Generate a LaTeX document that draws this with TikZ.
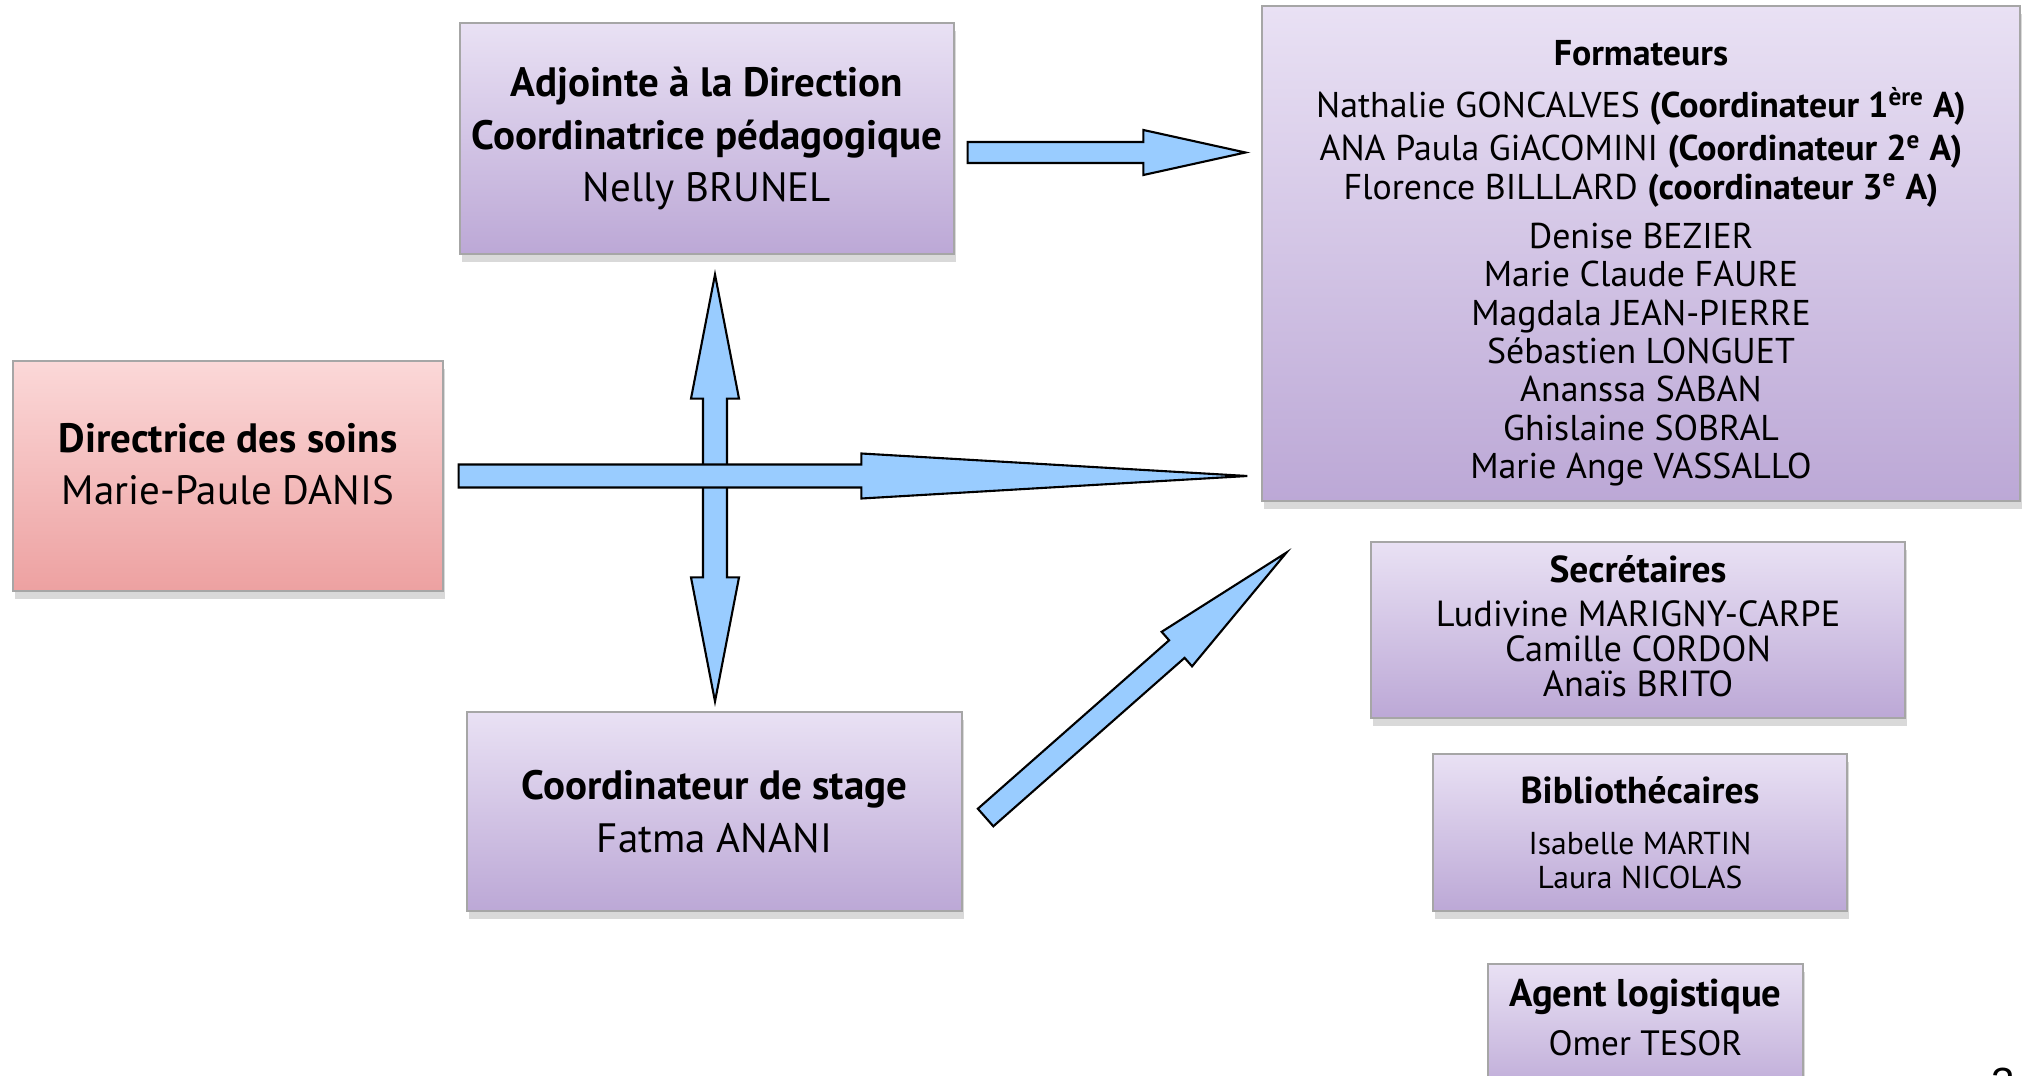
\documentclass[tikz,border=0pt]{standalone}
\usepackage{fontspec}
\setmainfont{PT Sans}
\newfontfamily\chiffre{Liberation Sans}
\usetikzlibrary{calc,shadows}

\definecolor{lavhaut}{HTML}{E9E1F4}
\definecolor{lavbas}{HTML}{BCA8D6}
\definecolor{rosehaut}{HTML}{FBD8D8}
\definecolor{rosebas}{HTML}{EDA1A1}
\definecolor{bleufl}{HTML}{99CCFF}

\newcommand{\upx}{0.15mm}
\newcommand{\grand}{\fontsize{17.5}{22.3}\selectfont}
\newcommand{\moyen}{\fontsize{16}{19}\selectfont}
\newcommand{\petit}{\fontsize{13.5}{14.5}\selectfont}
\newcommand{\calehaut}[1]{\rule{0pt}{#1}}
\newcommand{\calebas}[1]{\rule[-#1]{0pt}{#1}}

\tikzset{
  boite/.style={draw=gray!70, line width=0.5pt, top color=lavhaut, bottom color=lavbas,
    align=center, inner sep=0pt,
    drop shadow={shadow xshift=0.3mm, shadow yshift=-1.2mm, opacity=0.3}},
  rose/.style={top color=rosehaut, bottom color=rosebas},
  fleche/.style={draw=black, line width=0.9pt, fill=bleufl, line join=miter},
}

% fleche pleine : depart, pointe, demi-largeur tige, demi-largeur tete, longueur tete
\newcommand{\flechebloc}[5]{%
  \coordinate (fb-t) at ($(#2)!#5*\upx!(#1)$);
  \draw[fleche] ($(#1)!#3*\upx!90:(#2)$) -- ($(fb-t)!#3*\upx!90:(#2)$)
    -- ($(fb-t)!#4*\upx!90:(#2)$) -- (#2) -- ($(fb-t)!#4*\upx!-90:(#2)$)
    -- ($(fb-t)!#3*\upx!-90:(#2)$) -- ($(#1)!#3*\upx!-90:(#2)$) -- cycle;
}
% fleche a deux pointes
\newcommand{\flechedouble}[5]{%
  \coordinate (fd-a) at ($(#1)!#5*\upx!(#2)$);
  \coordinate (fd-b) at ($(#2)!#5*\upx!(#1)$);
  \draw[fleche] (#1) -- ($(fd-a)!#4*\upx!90:(#2)$) -- ($(fd-a)!#3*\upx!90:(#2)$)
    -- ($(fd-b)!#3*\upx!90:(#2)$) -- ($(fd-b)!#4*\upx!90:(#2)$) -- (#2)
    -- ($(fd-b)!#4*\upx!-90:(#2)$) -- ($(fd-b)!#3*\upx!-90:(#2)$)
    -- ($(fd-a)!#3*\upx!-90:(#2)$) -- ($(fd-a)!#4*\upx!-90:(#2)$) -- cycle;
}

\begin{document}
\begin{tikzpicture}[x=\upx, y=-\upx]
  \useasboundingbox (0,0) rectangle (2024,1076);

  \node[boite, rose, minimum width=430*\upx, minimum height=230*\upx, font=\grand] (dir) at (228,476)
    {\textbf{Directrice des soins}\\ Marie-Paule DANIS\calebas{10pt}};
  \node[boite, minimum width=494*\upx, minimum height=231*\upx, font=\grand] (adj) at (707,138.5)
    {\textbf{Adjointe à la Direction}\\ \textbf{Coordinatrice pédagogique}\\ Nelly BRUNEL};
  \node[boite, minimum width=495*\upx, minimum height=199*\upx, font=\grand] (stage) at (714.5,811.5)
    {\textbf{Coordinateur de stage}\\ Fatma ANANI};

  \node[boite, minimum width=758*\upx, minimum height=495*\upx, font=\fontsize{15.3}{16.4}\selectfont] (form) at (1641,253.5)
    {\calehaut{19pt}\textbf{Formateurs}\\[6pt]
     Nathalie GONCALVES \textbf{(Coordinateur 1\textsuperscript{ère} A)}\\[2pt]
     ANA Paula GiACOMINI \textbf{(Coordinateur 2\textsuperscript{e} A)}\\
     Florence BILLLARD \textbf{(coordinateur 3\textsuperscript{e} A)}\\[4.5pt]
     Denise BEZIER\\ Marie Claude FAURE\\ Magdala JEAN-PIERRE\\ Sébastien LONGUET\\
     Ananssa SABAN\\ Ghislaine SOBRAL\\ Marie Ange VASSALLO};
  \node[boite, minimum width=534*\upx, minimum height=176*\upx, font=\fontsize{15.5}{15}\selectfont] (secr) at (1638,630)
    {{\moyen\bfseries Secrétaires}\\[3.5pt]
     Ludivine MARIGNY-CARPE\\ Camille CORDON\\ Anaïs BRITO\calebas{3.4pt}};
  \node[boite, minimum width=414*\upx, minimum height=157*\upx, font=\petit] (biblio) at (1640,832.5)
    {{\moyen\bfseries Bibliothécaires}\\[7.5pt]
     Isabelle MARTIN\\ Laura NICOLAS};
  \node[boite, minimum width=315*\upx, minimum height=136*\upx, font=\fontsize{15}{16}\selectfont] (agent) at (1645.5,1032)
    {{\fontsize{16.5}{19}\selectfont\bfseries Agent logistique}\\[4.8pt] Omer TESOR\calebas{12.4pt}};

  \node[anchor=north, inner sep=0pt, font=\chiffre\fontsize{18}{18}\selectfont] (num) at (2003,1068) {3};

  % fleches
  \coordinate (a1) at ($(adj.east)+(13,14)$);
  \coordinate (b1) at ($(a1 -| form.west)+(-16,0)$);
  \flechebloc{a1}{b1}{10.5}{22.5}{102}

  \coordinate (a3) at ($(adj.south)+(8,20)$);
  \coordinate (b3) at ($(a3 |- stage.north)+(0,-10)$);
  \flechedouble{a3}{b3}{12}{24}{124}

  \coordinate (a2) at ($(dir.east)+(15,0)$);
  \coordinate (b2) at ($(a2 -| form.west)+(-14,0)$);
  \flechebloc{a2}{b2}{11.5}{22.5}{386}

  \coordinate (a4) at ($(stage.east)+(23,6)$);
  \coordinate (b4) at ($(form.south west)+(25,51)$);
  \flechebloc{a4}{b4}{11.7}{23}{146}
\end{tikzpicture}
\end{document}
